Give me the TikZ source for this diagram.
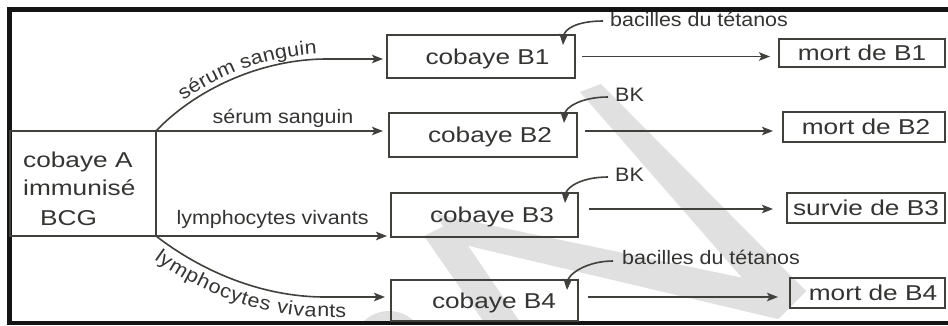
\documentclass[tikz,border=0pt]{standalone}
\usepackage{fontspec}
\setmainfont{Liberation Sans}
\newfontfamily\boxfont{Liberation Sans}[FakeStretch=1.22]
\newfontfamily\lblfont{Liberation Sans}[FakeStretch=1.1]
\usetikzlibrary{arrows.meta,decorations.text,calc}
\definecolor{ink}{RGB}{66,64,60}
\definecolor{txt}{RGB}{52,52,50}
\definecolor{wm}{RGB}{224,224,224}
\tikzset{
  bx/.style={draw=ink, line width=1.6pt, inner sep=0pt, outer sep=0pt,
    font=\boxfont\fontsize{21.5}{21.5}\selectfont, text=txt, text height=15pt, text depth=0pt},
  abox/.style={draw=ink, line width=2.8pt, inner sep=0pt, outer sep=0pt},
  atext/.style={font=\boxfont\fontsize{21.5}{21.5}\selectfont, text=txt, inner sep=0pt, anchor=base west},
  lbl/.style={font=\lblfont\fontsize{19.5}{19.5}\selectfont, text=txt, inner sep=0pt},
  arr/.style={draw=ink, line width=1.6pt, -{Stealth[length=11pt,width=8.5pt,inset=2.5pt]}},
  inarr/.style={draw=ink, line width=1.6pt, -{Stealth[length=11pt,width=8.5pt,inset=2pt]}},
}
\begin{document}
\begin{tikzpicture}[x=1pt,y=1pt]
\useasboundingbox (0,0) rectangle (948,-325);
\fill[white] (0,0) rectangle (948,-325);
% watermark
\begin{scope}
\clip (0,0) rectangle (948,-322);
\fill[wm] (580,-92) -- (601,-84) -- (806,-291) -- (778,-319) -- cycle;
\fill[wm] (436,-214) -- (806,-291) -- (778,-319) -- (452,-242) -- cycle;
\fill[wm] (424,-236) -- (452,-222) -- (522,-325) -- (486,-325) -- cycle;
\fill[wm] (389,-347) circle[radius=36];
\end{scope}
% frame
\draw[line width=4.5pt, black!92] (948,-9.5) -- (9.5,-9.5) -- (9.5,-323) -- (948,-323);

% source box
\node[abox, minimum width=146pt, minimum height=105pt] (A) at (83,-183.5) {};
\node[atext] (at1) at (23,-167) {cobaye A};
\node[atext] (at2) at (23,-195) {immunisé};
\node[atext] (at3) at (40,-225) {BCG};

% guinea pigs B
\node[bx, minimum width=188pt, minimum height=43pt] (B1) at (481,-56.5) {\hspace*{13pt}cobaye B1};
\node[bx, minimum width=188pt, minimum height=44pt] (B2) at (483,-135) {\hspace*{14pt}cobaye B2};
\node[bx, minimum width=187pt, minimum height=44pt] (B3) at (484.5,-215) {\hspace*{15pt}cobaye B3};
\node[bx, minimum width=187pt, minimum height=41pt] (B4) at (484.5,-300.5) {\hspace*{19pt}cobaye B4};

% outcomes
\node[bx, minimum width=166pt, minimum height=28pt] (M1) at (862,-53) {mort de B1};
\node[bx, minimum width=162pt, minimum height=30pt] (M2) at (864,-127) {\hspace*{4pt}mort de B2};
\node[bx, minimum width=158pt, minimum height=30pt] (M3) at (866,-208) {survie de B3};
\node[bx, minimum width=155pt, minimum height=30pt] (M4) at (867.5,-293) {\hspace*{11pt}mort de B4};

% injected agents
\node[lbl, anchor=west] (in1) at (610,-19) {bacilles du tétanos};
\node[lbl, anchor=west] (in2) at (615,-95) {BK};
\node[lbl, anchor=west] (in3) at (615,-175) {BK};
\node[lbl, anchor=west] (in4) at (622,-257) {bacilles du tétanos};

% helper coordinates
\coordinate (c1) at ([xshift=-60pt,yshift=-2.5pt]B1.west);
\coordinate (e1) at ([yshift=-2.5pt]B1.west);
\coordinate (c4) at ([xshift=-66pt,yshift=3.5pt]B4.west);
\coordinate (e4) at ([yshift=3.5pt]B4.west);

% A -> B arrows
\draw[arr, shorten >=4pt] (A.north east) .. controls +(39,41) and +(-67,0) .. (c1) -- (e1);
\path[decorate, decoration={text along path,
   text={|\lblfont\fontsize{19.5}{19.5}\selectfont\color{txt}|sérum sanguin},
   raise=5pt, text align={left indent=40pt}}]
   (A.north east) .. controls +(39,41) and +(-67,0) .. (c1);
\draw[arr, shorten >=6pt] (A.north east) --
   node[lbl, pos=0.545, anchor=base, yshift=8pt] (l2) {sérum sanguin} (A.north east -| B2.west);
\draw[arr, shorten >=4pt] (A.south east) --
   node[lbl, pos=0.496, anchor=base, yshift=12pt] (l3) {lymphocytes vivants} (A.south east -| B3.west);
\draw[arr, shorten >=6pt] (A.south east) .. controls +(44,-34) and +(-65,0) .. (c4) -- (e4);
\path[decorate, decoration={text along path,
   text={|\lblfont\fontsize{19.5}{19.5}\selectfont\color{txt}|lymphocytes vivants},
   raise=-20pt, text align={left indent=12pt}}]
   (A.south east) .. controls +(44,-34) and +(-65,0) .. (c4) -- (e4);

% B -> outcome arrows
\coordinate (s1) at (B1.east);
\coordinate (s2) at ([yshift=4pt]B2.east);
\coordinate (s3) at ([yshift=6pt]B3.east);
\coordinate (s4) at ([yshift=3.5pt]B4.east);
\draw[arr, shorten <=7pt, shorten >=9pt] (s1) -- (s1 -| M1.west);
\draw[arr, shorten <=8pt, shorten >=10pt] (s2) -- (s2 -| M2.west);
\draw[arr, shorten <=11pt, shorten >=14pt] (s3) -- (s3 -| M3.west);
\draw[arr, shorten <=10pt, shorten >=12pt] (s4) -- (s4 -| M4.west);

% injection arrows
\draw[inarr] ([xshift=-7pt,yshift=-2pt]in1.west) .. controls +(-26,0) and +(1,16) .. ([xshift=-12pt,yshift=-10pt]B1.north east);
\draw[inarr] ([xshift=-7pt,yshift=-2pt]in2.west) .. controls +(-26,0) and +(1,16) .. ([xshift=-13pt,yshift=-10pt]B2.north east);
\draw[inarr] ([xshift=-7pt,yshift=-2pt]in3.west) .. controls +(-26,0) and +(1,16) .. ([xshift=-13pt,yshift=-10pt]B3.north east);
\draw[inarr] ([xshift=-9pt,yshift=-4pt]in4.west) .. controls +(-26,0) and +(1,16) .. ([xshift=-11pt,yshift=-10pt]B4.north east);
\end{tikzpicture}
\end{document}
